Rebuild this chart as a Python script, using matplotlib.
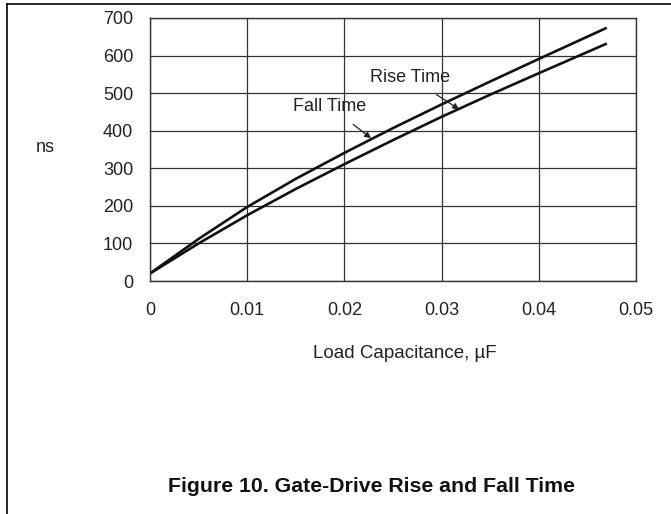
import numpy as np
import matplotlib
matplotlib.use("Agg")
import matplotlib.pyplot as plt
from matplotlib.lines import Line2D

plt.rcParams['font.family'] = ['Liberation Sans', 'DejaVu Sans']

# load capacitance (uF) and switching times (ns)
cap_uF = [0, 0.005, 0.01, 0.015, 0.02, 0.025, 0.03, 0.035, 0.04, 0.047]
fall_ns = [20, 112, 197, 272, 341, 407, 470, 531, 591, 674]
rise_ns = [20, 100, 175, 245, 311, 375, 437, 496, 553, 632]

x_ticks = [0, 0.01, 0.02, 0.03, 0.04, 0.05]
x_ticklabels = ["0", "0.01", "0.02", "0.03", "0.04", "0.05"]
y_ticks = [0, 100, 200, 300, 400, 500, 600, 700]

W, H = 671, 514
fig = plt.figure(figsize=(W / 100, H / 100), dpi=100)
fig.patch.set_facecolor("white")

# axes box in pixel terms
left, right, top, bottom = 150, 636, 18, 281
ax = fig.add_axes([left / W, 1 - bottom / H, (right - left) / W, (bottom - top) / H])

ax.plot(cap_uF, fall_ns, color="#111111", lw=1.9, solid_capstyle="butt")
ax.plot(cap_uF, rise_ns, color="#111111", lw=1.9, solid_capstyle="butt")

ax.set_xlim(0, 0.05)
ax.set_ylim(0, 700)
ax.set_xticks(x_ticks)
ax.set_xticklabels(x_ticklabels)
ax.set_yticks(y_ticks)
ax.grid(True, color="#333333", lw=0.9)
ax.set_axisbelow(True)
for s in ax.spines.values():
    s.set_color("#333333")
    s.set_linewidth(1.0)
ax.tick_params(length=0, labelsize=13, colors="#222222")
ax.tick_params(axis="x", pad=15)
ax.tick_params(axis="y", pad=12)

ax.set_xlabel("Load Capacitance, µF", fontsize=13.5, color="#222222", va="center")
ax.xaxis.set_label_coords(0.525, -0.274)
ax.set_ylabel("ns", fontsize=13, color="#222222", rotation=0, ha="center", va="center")
ax.yaxis.set_label_coords(-0.216, 0.506)

ax.annotate("Rise Time", xy=(0.0318, 457), xytext=(0.02675, 542),
            fontsize=13, color="#222222", ha="center", va="center",
            arrowprops=dict(arrowstyle="-|>", color="#222222", lw=0.9,
                            mutation_scale=9, shrinkA=8, shrinkB=0))
ax.annotate("Fall Time", xy=(0.02274, 380), xytext=(0.0185, 465),
            fontsize=13, color="#222222", ha="center", va="center",
            arrowprops=dict(arrowstyle="-|>", color="#222222", lw=0.9,
                            mutation_scale=9, shrinkA=8, shrinkB=0))

fig.text(372 / W, 1 - 486 / H, "Figure 10. Gate-Drive Rise and Fall Time",
         fontsize=15.3, fontweight="bold", ha="center", va="center", color="#111111")

# page frame lines (top and left)
fig.add_artist(Line2D([7 / W, 1], [1 - 4 / H, 1 - 4 / H], transform=fig.transFigure,
                      color="black", lw=1.2))
fig.add_artist(Line2D([7 / W, 7 / W], [0, 1 - 4 / H], transform=fig.transFigure,
                      color="black", lw=1.2))

fig.savefig("out.png", dpi=100)
